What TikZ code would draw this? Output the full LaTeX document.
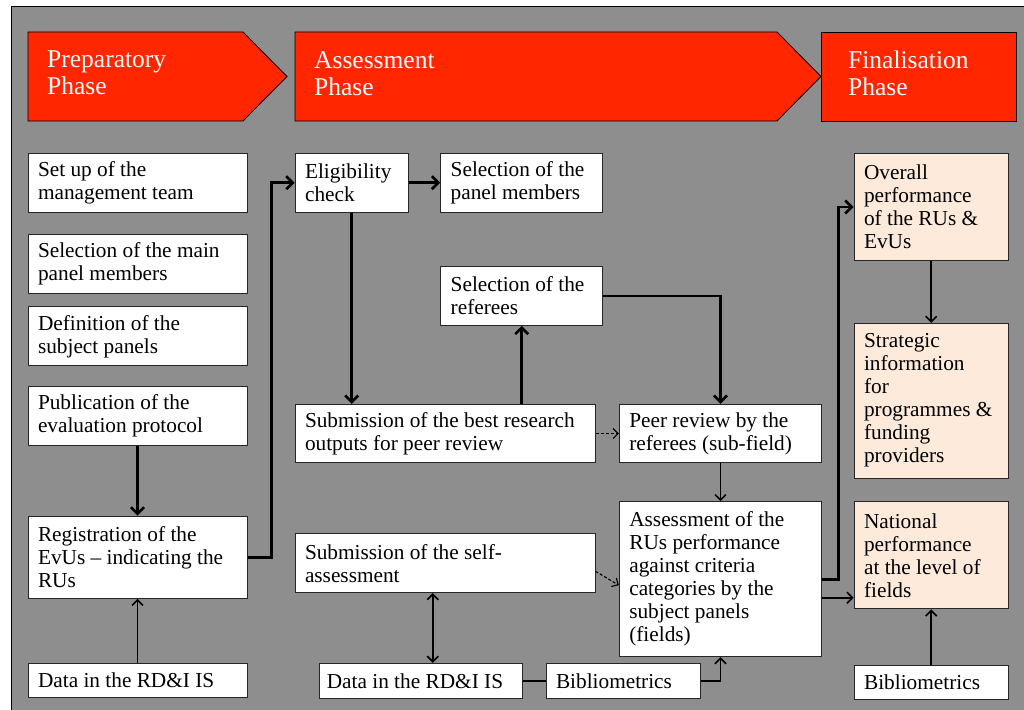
\documentclass[tikz,border=0pt]{standalone}
\usepackage{fontspec}
\setmainfont{Liberation Serif}
\usetikzlibrary{arrows.meta}

\definecolor{phasered}{RGB}{255,38,0}
\definecolor{bggray}{RGB}{142,142,142}
\definecolor{peach}{RGB}{253,234,218}

\begin{document}
\begin{tikzpicture}[
    x=1pt, y=-1pt,
    phase/.style={draw=black, line width=0.8pt, fill=phasered},
    phasetext/.style={anchor=north west, inner sep=0pt, align=left, text=white, font=\fontsize{25.5}{27}\selectfont},
    block/.style={rectangle, draw=black!85, line width=1pt, fill=white, inner xsep=10pt, inner ysep=2pt, align=flush left, font=\fontsize{21.3}{23}\selectfont},
    leftblock/.style={block, text width=199pt},
    finalblock/.style={block, fill=peach, text width=134.3pt},
    thickline/.style={line width=2.6pt, >={Straight Barb[length=6.5pt,width=13pt]}},
    thinline/.style={line width=1.6pt, >={Straight Barb[length=5.5pt,width=11pt]}},
    dashline/.style={line width=1.1pt, dash pattern=on 3pt off 2pt, >={Straight Barb[length=5pt,width=10pt]}}
]
\useasboundingbox (0,0) rectangle (1024,709);
\draw[fill=bggray, line width=1pt] (11,7) rectangle (1040,720);

% Fasi
\draw[phase] (28,32) -- (243,32) -- (287,76.5) -- (243,121) -- (28,121) -- cycle;
\draw[phase] (295,32) -- (777,32) -- (821,76.5) -- (777,121) -- (295,121) -- cycle;
\draw[phase] (821.5,32) rectangle (1016,121);
\node[phasetext] (prep) at (47,51) {Preparatory\\Phase};
\node[phasetext] (assessphase) at (314,51) {Assessment\\Phase};
\node[phasetext] (finalphase) at (848,51) {Finalisation\\Phase};

% Fase preparatoria
\node[leftblock, minimum height=58.7pt] (setup) at (137.5,182.7) {Set up of the\\management team};
\node[leftblock, minimum height=59pt] (mainpanel) at (137.5,263.8) {Selection of the main\\panel members};
\node[leftblock, minimum height=59.3pt] (subjpanels) at (137.5,336.3) {Definition of the\\subject panels};
\node[leftblock, minimum height=59pt] (publication) at (137.5,415.5) {Publication of the\\evaluation protocol};
\node[leftblock, minimum height=82.3pt] (registration) at (137.5,557.2) {Registration of the\\EvUs -- indicating the\\RUs};
\node[leftblock, minimum height=34.4pt] (dataone) at (137.5,680.5) {Data in the RD\&I IS};

% Fase di valutazione
\node[block, text width=93.3pt, minimum height=58.7pt] (eligibility) at (351.7,182.7) {Eligibility\\check};
\node[block, text width=142pt, minimum height=58.7pt] (panelmembers) at (521.7,182.7) {Selection of the\\panel members};
\node[block, text width=142pt, minimum height=58.6pt] (referees) at (521.7,296) {Selection of the\\referees};
\node[block, text width=280pt, minimum height=58.4pt] (bestoutputs) at (445,433.5) {Submission of the best research\\outputs for peer review};
\node[block, text width=182.4pt, minimum height=58.4pt] (peerreview) at (720.5,433.5) {Peer review by the\\referees (sub-field)};
\node[block, text width=280pt, minimum height=58.7pt] (selfassess) at (445,563.3) {Submission of the self-\\assessment};
\node[block, text width=182.4pt, minimum height=155pt] (assess) at (720.5,579.2) {Assessment of the\\RUs performance\\against criteria\\categories by the\\subject panels\\(fields)};
\node[block, inner xsep=7.5pt, text width=188pt, minimum height=35pt] (datatwo) at (420.8,680.8) {Data in the RD\&I IS};
\node[block, text width=134pt, minimum height=35pt] (bibtwo) at (623,680.8) {Bibliometrics};

% Fase finale
\node[finalblock, minimum height=107.4pt] (overall) at (931.2,207) {Overall\\performance\\of the RUs \&\\EvUs};
\node[finalblock, minimum height=154.7pt] (strategic) at (931.2,400.7) {Strategic\\information\\for\\programmes \&\\funding\\providers};
\node[finalblock, minimum height=107.3pt] (national) at (931.2,555.3) {National\\performance\\at the level of\\fields};
\node[finalblock, fill=white, minimum height=34.3pt] (bibthree) at (931.2,682.2) {Bibliometrics};

% Frecce
\draw[thickline,->] (publication) -- (registration);
\draw[thinline,->] (dataone) -- (registration);
\draw[thickline,->] (registration.east) -- ++(24,0) |- (eligibility.west);
\draw[thickline,->] (eligibility) -- (panelmembers);
\draw[thickline,->] (eligibility.south) -- (eligibility.south |- bestoutputs.north);
\draw[thickline,->] (referees.south |- bestoutputs.north) -- (referees.south);
\draw[thickline,->] (referees.east) -| (peerreview.north);
\draw[dashline,->] (bestoutputs) -- (peerreview);
\draw[thinline,->] (peerreview) -- (assess);
\draw[dashline,->] ([yshift=-8pt]selfassess.east) -- ([yshift=-6pt]assess.west);
\coordinate (dd) at ([xshift=12pt]datatwo.north);
\draw[thinline,<->] (dd) -- (dd |- selfassess.south);
\draw[thinline] (datatwo) -- (bibtwo);
\draw[thinline,->] (bibtwo.east) -| (assess.south);
\draw[thickline,->] (assess.east) -- ++(16,0) |- (overall.west);
\coordinate (an) at ([yshift=-18.5pt]assess.east);
\draw[thinline,->] (an) -- (an -| national.west);
\draw[thinline,->] (overall) -- (strategic);
\draw[thinline,->] (bibthree) -- (national);

\end{tikzpicture}
\end{document}
